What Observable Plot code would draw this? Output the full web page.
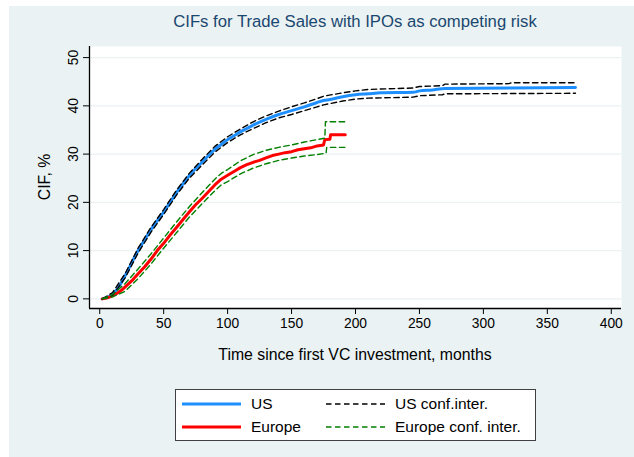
<!DOCTYPE html>
<html><head><meta charset="utf-8">
<script src="https://cdn.jsdelivr.net/npm/d3@7"></script>
<script src="https://cdn.jsdelivr.net/npm/@observablehq/plot@0.6"></script>
<style>
body{margin:0;background:#fff;}
#wrap{position:relative;width:634px;height:457px;background:#fff;overflow:hidden;font-family:"Liberation Sans",Arial,sans-serif;}
#bg{position:absolute;left:9px;top:6px;right:0;bottom:0;background:#EAF2F3;}
#chart{position:absolute;left:0;top:0;}
#title{position:absolute;left:89px;width:532px;top:12.8px;text-align:center;font-size:16.7px;line-height:17px;color:#1a476f;white-space:nowrap;}
#xtitle{position:absolute;left:89px;width:532px;top:346.7px;text-align:center;font-size:15.8px;line-height:15.8px;color:#000;white-space:nowrap;}
#ytitle{position:absolute;left:45px;top:177px;transform:translate(-50%,-50%) rotate(-90deg);font-size:15.8px;line-height:15.8px;color:#000;white-space:nowrap;}
#legend{position:absolute;left:175px;top:389px;width:361px;height:52px;background:#fff;border:1px solid #404040;box-sizing:border-box;}
.sw{position:absolute;width:59px;height:6px;overflow:visible;}
.lt{position:absolute;font-size:15.5px;line-height:18px;color:#000;white-space:nowrap;}
</style>
</head><body>
<div id="wrap">
  <div id="bg"></div>
  <div id="chart"></div>
  <div id="title"></div>
  <div id="xtitle"></div>
  <div id="ytitle"></div>
  <div id="legend"></div>
</div>
<script>
// ---- data ----
const titleText = "CIFs for Trade Sales with IPOs as competing risk";
const xTitle = "Time since first VC investment, months";
const yTitle = "CIF, %";
const xTicks = [0, 50, 100, 150, 200, 250, 300, 350, 400];
const yTicks = [0, 10, 20, 30, 40, 50];
const xDomain = [-8, 408];
const yDomain = [-2, 52.3];

const usTime = [2,6,10,14,18,22,26,30,35,40,45,50,55,60,65,70,75,80,85,90,95,100,105,110,115,120,130,140,150,160,170,175,180,190,200,210,220,245,250,260,270,320,372];
const usCif  = [0,0.3,1.0,2.1,3.9,5.9,8.0,10.0,12.2,14.3,16.2,18.0,20.0,22.0,23.8,25.5,27.0,28.3,29.7,31.0,32.0,33.0,33.8,34.6,35.3,36.0,37.2,38.2,39.0,39.8,40.7,41.1,41.3,41.9,42.3,42.5,42.7,42.8,43.1,43.3,43.6,43.7,43.8];

const usHiTime = [2,10,20,30,40,50,60,70,80,90,100,110,120,130,140,150,160,170,175,190,200,210,245,250,268,270,320,322,372];
const usHi     = [0,1.3,5.3,10.5,14.8,18.5,22.5,26.0,28.9,31.6,33.6,35.2,36.7,37.9,38.9,39.8,40.6,41.5,42.0,42.7,43.1,43.4,43.7,44.0,44.2,44.5,44.6,44.8,44.8];

const usLoTime = [2,10,20,30,40,50,60,70,80,90,100,110,120,130,140,150,160,170,175,190,200,210,245,250,268,270,372];
const usLo     = [0,0.7,4.4,9.5,13.8,17.5,21.5,25.0,27.7,30.4,32.4,34.0,35.3,36.5,37.5,38.2,39.0,39.8,40.2,41.0,41.4,41.6,41.8,42.1,42.3,42.5,42.6];

const euTime = [2,6,10,14,18,22,26,30,35,40,45,50,55,60,65,70,75,80,85,90,95,100,105,110,115,120,125,130,135,140,145,150,155,160,165,170,175,176,180,180.5,192];
const euCif  = [0,0.2,0.6,1.2,2.0,3.0,4.0,5.2,6.6,8.2,10.0,11.5,13.2,14.8,16.4,18.0,19.5,20.8,22.2,23.6,24.8,25.6,26.4,27.2,27.8,28.3,28.7,29.2,29.7,30.0,30.3,30.5,30.9,31.1,31.3,31.7,31.9,33.0,33.1,34.0,34.0];

const euHiTime = [2,10,20,30,40,50,60,70,80,90,95,100,110,120,130,140,150,160,170,176,176.5,192];
const euHi     = [0,0.9,3.2,6.2,9.3,12.6,15.9,19.1,22.0,24.8,26.0,26.8,28.6,29.9,30.8,31.4,31.9,32.5,33.0,33.3,36.7,36.7];

const euLoTime = [2,10,20,30,40,50,60,70,80,90,95,100,110,120,130,140,150,160,170,177,177.5,192];
const euLo     = [0,0.4,1.6,4.2,7.2,10.5,13.7,16.9,19.7,22.4,23.6,24.3,25.9,27.1,28.0,28.7,29.2,29.6,29.9,30.2,31.4,31.4];

const legendLabels = ["US", "Europe", "US conf.inter.", "Europe conf. inter."];
const colors = {us: "#1E8FFF", eu: "#FF0000", usci: "#000000", euci: "#008000"};

// ---- chart ----
const dash = "5.5,3.5";
const chart = Plot.plot({
  width: 634, height: 380,
  marginLeft: 89, marginRight: 13, marginTop: 46, marginBottom: 72,
  style: {background: "transparent", fontFamily: "'Liberation Sans', Arial, sans-serif", fontSize: "13.5px", color: "#000"},
  x: {domain: xDomain},
  y: {domain: yDomain},
  marks: [
    Plot.frame({fill: "white", stroke: "none"}),
    Plot.ruleY(yTicks, {stroke: "#EAF2F3", strokeWidth: 1.2}),
    Plot.ruleX([xDomain[0]], {stroke: "#000", strokeWidth: 1.3}),
    Plot.ruleY([yDomain[0]], {stroke: "#000", strokeWidth: 1.3}),
    Plot.axisX({ticks: xTicks, tickSize: 6, tickPadding: 4, label: null, fontSize: 13.8}),
    Plot.axisY({ticks: yTicks, tickSize: 6, tickPadding: 6, tickRotate: -90, label: null, fontSize: 13.8}),
    Plot.lineY(usCif, {x: usTime, stroke: colors.us, strokeWidth: 3, curve: "monotone-x"}),
    Plot.lineY(euCif, {x: euTime, stroke: colors.eu, strokeWidth: 3}),
    Plot.lineY(usHi, {x: usHiTime, stroke: colors.usci, strokeWidth: 1.4, strokeDasharray: dash}),
    Plot.lineY(usLo, {x: usLoTime, stroke: colors.usci, strokeWidth: 1.4, strokeDasharray: dash}),
    Plot.lineY(euHi, {x: euHiTime, stroke: colors.euci, strokeWidth: 1.4, strokeDasharray: dash}),
    Plot.lineY(euLo, {x: euLoTime, stroke: colors.euci, strokeWidth: 1.4, strokeDasharray: dash})
  ]
});
document.getElementById("chart").appendChild(chart);
document.getElementById("title").textContent = titleText;
document.getElementById("xtitle").textContent = xTitle;
document.getElementById("ytitle").textContent = yTitle;

// ---- legend ----
const legend = document.getElementById("legend");
const items = [
  {label: legendLabels[0], color: colors.us, width: 3, dash: null, col: 0, row: 0},
  {label: legendLabels[1], color: colors.eu, width: 3, dash: null, col: 0, row: 1},
  {label: legendLabels[2], color: colors.usci, width: 1.4, dash: dash, col: 1, row: 0},
  {label: legendLabels[3], color: colors.euci, width: 1.4, dash: dash, col: 1, row: 1}
];
const colSw = [6, 150], colTx = [75, 219], rowC = [14, 37];
for (const it of items) {
  const svg = d3.create("svg").attr("class", "sw").attr("width", 59).attr("height", 6)
    .style("left", colSw[it.col] + "px").style("top", (rowC[it.row] - 3) + "px");
  svg.append("line").attr("x1", 0).attr("x2", 59).attr("y1", 3).attr("y2", 3)
    .attr("stroke", it.color).attr("stroke-width", it.width)
    .attr("stroke-dasharray", it.dash);
  legend.appendChild(svg.node());
  const t = document.createElement("div");
  t.className = "lt";
  t.textContent = it.label;
  t.style.left = colTx[it.col] + "px";
  t.style.top = (rowC[it.row] - 9) + "px";
  legend.appendChild(t);
}
</script>
</body></html>
